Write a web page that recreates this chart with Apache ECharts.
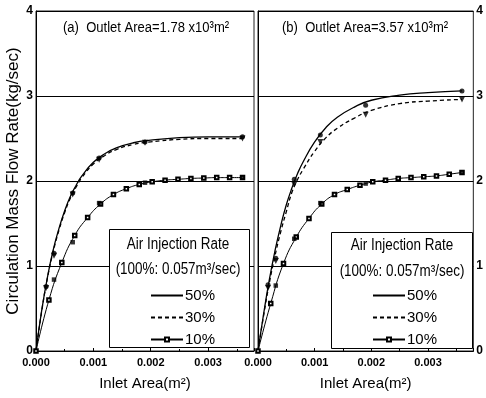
<!DOCTYPE html>
<html>
<head>
<meta charset="utf-8">
<script src="https://cdn.jsdelivr.net/npm/echarts@6/dist/echarts.min.js"></script>
<style>
  html, body { margin: 0; padding: 0; background: #fff; }
  #chart { width: 486px; height: 398px; }
</style>
</head>
<body>
<div id="chart"></div>
<script>
// fitted curves (50% / 30%)
const curveX = [0, 0.0001, 0.0002, 0.0003, 0.0004, 0.0005, 0.0006, 0.0007, 0.0008, 0.001, 0.0012, 0.0014, 0.0017, 0.002, 0.0025, 0.003, 0.0036];
const a50Curve = [0, 0.48, 0.87, 1.19, 1.44, 1.65, 1.82, 1.95, 2.06, 2.22, 2.32, 2.39, 2.45, 2.48, 2.51, 2.52, 2.52];
const a30Curve = [0, 0.47, 0.86, 1.17, 1.42, 1.63, 1.80, 1.93, 2.04, 2.20, 2.30, 2.37, 2.43, 2.46, 2.49, 2.50, 2.50];
const b50Curve = [0, 0.44, 0.84, 1.18, 1.47, 1.72, 1.92, 2.09, 2.23, 2.46, 2.63, 2.75, 2.87, 2.95, 3.01, 3.04, 3.06];
const b30Curve = [0, 0.42, 0.80, 1.12, 1.40, 1.64, 1.87, 2.02, 2.14, 2.35, 2.51, 2.62, 2.74, 2.83, 2.91, 2.94, 2.96];

// fitted curve for 10% (drawn with open squares)
const fitX = [0, 0.000225, 0.00045, 0.000675, 0.0009, 0.001125, 0.00135, 0.001575, 0.0018, 0.002025, 0.00225, 0.002475, 0.0027, 0.002925, 0.00315, 0.003375, 0.0036];
const a10Fit = [0, 0.60, 1.04, 1.36, 1.57, 1.73, 1.84, 1.91, 1.96, 1.99, 2.01, 2.02, 2.03, 2.035, 2.04, 2.04, 2.04];
const b10Fit = [0, 0.56, 1.03, 1.34, 1.56, 1.73, 1.84, 1.90, 1.95, 1.99, 2.01, 2.03, 2.04, 2.05, 2.06, 2.08, 2.10];

// measured points
const dataX = [0.000177, 0.000314, 0.00064, 0.0011, 0.0019, 0.0036];
const a50Pts = [0.76, 1.15, 1.86, 2.27, 2.46, 2.52];
const a30Pts = [0.74, 1.12, 1.84, 2.25, 2.45, 2.50];
const b50Pts = [0.78, 1.09, 2.02, 2.54, 2.89, 3.06];
const b30Pts = [0.74, 1.06, 1.96, 2.46, 2.78, 2.96];
const tenX = [0.000314, 0.00064, 0.0011, 0.0019, 0.0036];
const a10Pts = [0.84, 1.28, 1.74, 1.98, 2.04];
const b10Pts = [0.77, 1.32, 1.74, 1.97, 2.10];

const xTickLabels = ['0.000', '0.001', '0.002', '0.003'];
const panelTitles = ['(a)  Outlet Area=1.78 x10\u00b3m\u00b2', '(b)  Outlet Area=3.57 x10\u00b3m\u00b2'];
const legendNames = ['50%', '30%', '10%'];

const FONT = '"Liberation Sans", Arial, sans-serif';
const zip = (xs, ys) => xs.map((x, i) => [x, ys[i]]);

const chart = echarts.init(document.getElementById('chart'));

function xAxisFor(gridIndex) {
  return {
    gridIndex,
    type: 'value',
    min: 0,
    max: 0.0038,
    interval: 0.001,
    name: 'Inlet Area(m\u00b2)',
    nameLocation: 'middle',
    nameGap: 25,
    nameTextStyle: { color: '#000', fontSize: 15, fontFamily: FONT },
    axisLine: { lineStyle: { color: '#000', width: 1 } },
    axisTick: { inside: true, length: 3, lineStyle: { color: '#000' } },
    minorTick: { show: true, splitNumber: 2, length: 2, lineStyle: { color: '#000' } },
    splitLine: { show: false },
    axisLabel: {
      color: '#000', fontSize: 11, fontFamily: FONT, fontWeight: 'bold', margin: 6,
      showMaxLabel: false,
      formatter: v => xTickLabels[Math.round(v * 1000)] || ''
    }
  };
}

function yAxisFor(gridIndex, position) {
  return {
    gridIndex,
    type: 'value',
    position,
    min: 0,
    max: 4,
    interval: 1,
    name: gridIndex === 0 ? 'Circulation Mass Flow Rate(kg/sec)' : '',
    nameLocation: 'middle',
    nameGap: 14,
    nameTextStyle: { color: '#000', fontSize: 17, fontFamily: FONT },
    axisLine: { show: true, lineStyle: { color: '#000', width: 1 } },
    axisTick: { show: false },
    splitLine: { show: true, lineStyle: { color: '#000', width: 1 } },
    axisLabel: { color: '#000', fontSize: 12, fontWeight: 'bold', fontFamily: FONT, margin: 3 }
  };
}

function panelSeries(i, c50, c30, f10, p50, p30, p10) {
  return [
    { name: '50%', type: 'line', xAxisIndex: i, yAxisIndex: i, data: zip(curveX, c50), smooth: true,
      symbol: 'none', lineStyle: { color: '#000', width: 1.3 }, itemStyle: { color: '#000' }, z: 3 },
    { name: '30%', type: 'line', xAxisIndex: i, yAxisIndex: i, data: zip(curveX, c30), smooth: true,
      symbol: 'none', lineStyle: { color: '#000', width: 1.3, type: [4, 3] }, itemStyle: { color: '#000' }, z: 3 },
    { name: '10%', type: 'line', xAxisIndex: i, yAxisIndex: i, data: zip(fitX, f10), smooth: true,
      symbol: 'emptyRect', symbolSize: 3.5, showAllSymbol: true, lineStyle: { color: '#000', width: 1 },
      itemStyle: { color: '#000', borderWidth: 0.8 }, z: 3 },
    { name: 'pts50', type: 'scatter', xAxisIndex: i, yAxisIndex: i, data: zip(dataX, p50),
      symbol: 'circle', symbolSize: 5, itemStyle: { color: '#000' }, z: 4 },
    { name: 'pts30', type: 'scatter', xAxisIndex: i, yAxisIndex: i, data: zip(dataX, p30),
      symbol: 'triangle', symbolRotate: 180, symbolSize: 6, itemStyle: { color: '#000' }, z: 4 },
    { name: 'pts10', type: 'scatter', xAxisIndex: i, yAxisIndex: i, data: zip(tenX, p10),
      symbol: 'rect', symbolSize: 4.5, itemStyle: { color: '#000' }, z: 4 }
  ];
}

function legendFor(left, top) {
  return {
    data: legendNames.map((name, k) => k < 2 ? { name, itemStyle: { opacity: 0 } } : { name }),
    orient: 'vertical',
    left, top,
    padding: 0,
    itemWidth: 32,
    itemHeight: 5,
    itemGap: 7,
    selectedMode: false,
    z: 10,
    textStyle: { color: '#000', fontSize: 15, lineHeight: 14, fontFamily: FONT, padding: [0, 0, 0, -3] }
  };
}

function scaledText(text, x, y, size, align) {
  return { type: 'text', z: 6, x, y, scaleX: 0.84,
    style: { text, fill: '#000', font: size + 'px ' + FONT, textAlign: align || 'center', textVerticalAlign: 'middle' } };
}

function legendBox(x, y, w, h, cx, y1, y2) {
  return [
    { type: 'rect', z: 5, shape: { x, y, width: w, height: h },
      style: { fill: '#fff', stroke: '#000', lineWidth: 1 } },
    scaledText('Air Injection Rate', cx, y1, 16),
    scaledText('(100%: 0.057m\u00b3/sec)', cx, y2, 16)
  ];
}

chart.setOption({
  backgroundColor: '#fff',
  animation: false,
  grid: [
    { left: 36, right: 232, top: 11, bottom: 47, show: true, borderColor: '#222', borderWidth: 1 },
    { left: 258, right: 8, top: 11, bottom: 47, show: true, borderColor: '#222', borderWidth: 1 }
  ],
  xAxis: [xAxisFor(0), xAxisFor(1)],
  yAxis: [yAxisFor(0, 'left'), yAxisFor(1, 'right')],
  legend: [legendFor(150, 288), legendFor(372, 288)],
  graphic: [
    scaledText(panelTitles[0], 63, 28, 15.5, 'left'),
    scaledText(panelTitles[1], 282, 28, 15.5, 'left'),
    ...legendBox(109.5, 229.5, 140, 118, 178, 245, 270),
    ...legendBox(331.5, 232.5, 141, 116, 402, 246, 272)
  ],
  series: [
    ...panelSeries(0, a50Curve, a30Curve, a10Fit, a50Pts, a30Pts, a10Pts),
    ...panelSeries(1, b50Curve, b30Curve, b10Fit, b50Pts, b30Pts, b10Pts)
  ]
});
</script>
</body>
</html>
